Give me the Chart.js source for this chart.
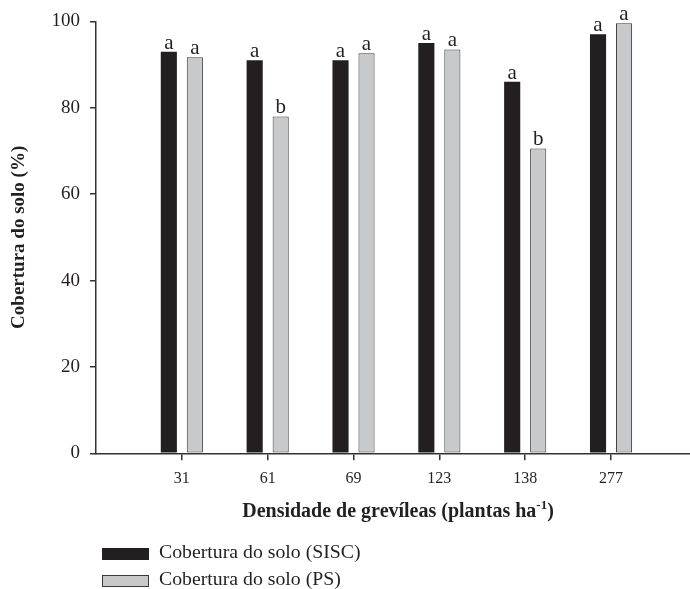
<!DOCTYPE html>
<html>
<head>
<meta charset="utf-8">
<script src="https://cdn.jsdelivr.net/npm/chart.js@4.4.0/dist/chart.umd.min.js"></script>
<style>
  html, body { margin: 0; padding: 0; background: #fff; }
  #wrap { width: 690px; height: 589px; }
</style>
</head>
<body>
<div id="wrap"><canvas id="chart" width="690" height="589"></canvas></div>
<script>
// chart values
const categories = ['31', '61', '69', '123', '138', '277'];
const siscValues = [93, 91, 91, 95, 86, 97];
const psValues = [91.7, 78, 92.6, 93.5, 70.6, 99.6];
const siscLetters = ['a', 'a', 'a', 'a', 'a', 'a'];
const psLetters = ['a', 'b', 'a', 'a', 'b', 'a'];
const yTicks = [0, 20, 40, 60, 80, 100];

const serif = '"Liberation Serif", "Times New Roman", serif';
const ink = '#231f20';
const axisColor = '#333333';

// letters over the bars, x title with superscript, and the stacked legend
const extras = {
  id: 'extras',
  afterDatasetsDraw(chart) {
    const ctx = chart.ctx;
    ctx.save();
    ctx.fillStyle = ink;
    ctx.font = '21px ' + serif;
    ctx.textAlign = 'center';
    ctx.textBaseline = 'alphabetic';
    chart.data.datasets.forEach(function (ds, di) {
      const meta = chart.getDatasetMeta(di);
      meta.data.forEach(function (bar, i) {
        ctx.fillText(ds.letters[i], bar.x, bar.y - 3);
      });
    });
    ctx.restore();
  },
  afterDraw(chart) {
    const ctx = chart.ctx;
    ctx.save();
    ctx.fillStyle = ink;

    // x axis title
    const mainTxt = 'Densidade de grevíleas (plantas ha';
    const supTxt = '-1';
    const endTxt = ')';
    const base = 517;
    ctx.textBaseline = 'alphabetic';
    ctx.textAlign = 'left';
    ctx.font = 'bold 20px ' + serif;
    const w1 = ctx.measureText(mainTxt).width;
    const w3 = ctx.measureText(endTxt).width;
    ctx.font = 'bold 13px ' + serif;
    const w2 = ctx.measureText(supTxt).width;
    let x = 398 - (w1 + w2 + w3) / 2;
    ctx.font = 'bold 20px ' + serif;
    ctx.fillText(mainTxt, x, base);
    x += w1;
    ctx.font = 'bold 13px ' + serif;
    ctx.fillText(supTxt, x, base - 8);
    x += w2;
    ctx.font = 'bold 20px ' + serif;
    ctx.fillText(endTxt, x, base);

    // legend
    ctx.font = '19.8px ' + serif;
    ctx.textBaseline = 'middle';
    chart.data.datasets.forEach(function (ds, di) {
      const y = 548 + di * 27;
      ctx.fillStyle = ds.backgroundColor;
      ctx.fillRect(102, y, 47, 12);
      if (ds.borderWidth) {
        ctx.strokeStyle = ds.borderColor;
        ctx.lineWidth = 1;
        ctx.strokeRect(102.5, y + 0.5, 46, 11);
      }
      ctx.fillStyle = ink;
      ctx.fillText(ds.label, 159, y + 5);
    });
    ctx.restore();
  }
};

new Chart(document.getElementById('chart'), {
  type: 'bar',
  data: {
    datasets: [
      {
        label: 'Cobertura do solo (SISC)',
        data: siscValues.map((v, i) => ({ x: i + 1, y: v })),
        letters: siscLetters,
        backgroundColor: '#231f20',
        borderWidth: 0
      },
      {
        label: 'Cobertura do solo (PS)',
        data: psValues.map((v, i) => ({ x: i + 1, y: v })),
        letters: psLetters,
        backgroundColor: '#c8c9ca',
        borderColor: '#3a3a3a',
        borderWidth: 1,
        borderSkipped: false
      }
    ]
  },
  options: {
    responsive: false,
    devicePixelRatio: 1,
    animation: false,
    layout: { padding: { top: 21, right: 0, bottom: 0, left: 0 } },
    categoryPercentage: 0.606,
    barPercentage: 0.62,
    plugins: {
      legend: { display: false },
      tooltip: { enabled: false }
    },
    scales: {
      x: {
        type: 'linear',
        min: 0,
        max: 6.92,
        offset: false,
        afterBuildTicks(scale) {
          scale.ticks = categories.map((c, i) => ({ value: i + 1 }));
        },
        afterFit(scale) {
          scale.height = 589 - 453.3;
        },
        grid: { offset: false, drawOnChartArea: false, drawTicks: true, tickLength: 7, color: axisColor, lineWidth: 1.5 },
        border: { display: true, color: axisColor, width: 1.5 },
        ticks: {
          color: ink,
          font: { family: serif, size: 16 },
          padding: 9,
          maxRotation: 0,
          callback: (v) => categories[v - 1]
        }
      },
      y: {
        min: 0,
        max: 100,
        afterBuildTicks(scale) {
          scale.ticks = yTicks.map((v) => ({ value: v }));
        },
        afterFit(scale) {
          scale.width = 96;
        },
        grid: { drawOnChartArea: false, drawTicks: true, tickLength: 6, color: axisColor, lineWidth: 1.5 },
        border: { display: true, color: axisColor, width: 1.5 },
        ticks: {
          color: ink,
          font: { family: serif, size: 19 },
          padding: 10
        },
        title: {
          display: true,
          text: 'Cobertura do solo (%)',
          color: ink,
          font: { family: serif, size: 19, weight: 'bold' },
          padding: { top: 8, bottom: 0 }
        }
      }
    }
  },
  plugins: [extras]
});
</script>
</body>
</html>
